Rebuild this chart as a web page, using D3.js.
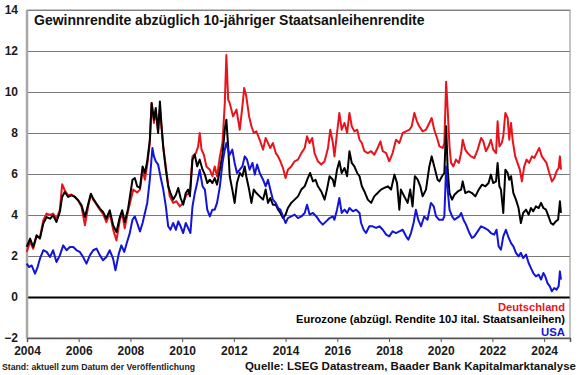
<!DOCTYPE html>
<html>
<head>
<meta charset="utf-8">
<script src="https://cdn.jsdelivr.net/npm/d3@7"></script>
<style>
  body { margin: 0; background: #fff; }
  text { font-family: "Liberation Sans", Arial, sans-serif; font-weight: bold; }
</style>
</head>
<body>
<svg id="chart" width="580" height="375"></svg>
<script>
/* global d3 */

/*
** Data (decimal year, spread in %-points)
*/
var deutschland = [
  [2003.99,2.20],[2004.12,2.70],[2004.24,2.35],[2004.37,2.95],[2004.50,2.90],[2004.63,3.74],[2004.76,4.07],
  [2004.89,4.00],[2005.01,4.07],[2005.14,3.80],[2005.27,4.25],[2005.36,5.50],[2005.46,5.20],[2005.59,4.95],
  [2005.72,5.00],[2005.85,4.90],[2005.98,4.70],[2006.11,4.40],[2006.24,3.50],[2006.37,4.45],[2006.47,5.00],
  [2006.56,4.75],[2006.69,4.50],[2006.82,4.25],[2006.94,4.05],[2007.07,3.65],[2007.20,4.10],[2007.33,3.30],
  [2007.46,2.76],[2007.59,3.75],[2007.68,4.10],[2007.78,3.35],[2007.91,4.20],
  [2008.11,5.24],[2008.26,5.10],[2008.37,5.24],[2008.47,6.20],[2008.56,5.72],[2008.65,6.45],[2008.75,7.51],
  [2008.82,9.46],[2008.91,8.49],[2008.98,9.06],[2009.07,8.10],[2009.14,9.14],[2009.27,7.35],[2009.40,6.05],
  [2009.52,4.91],[2009.65,4.59],[2009.78,4.67],[2009.91,4.42],[2010.04,4.59],[2010.17,4.99],[2010.30,5.07],
  [2010.40,6.86],[2010.53,7.02],[2010.62,7.35],[2010.68,8.00],[2010.75,7.19],[2010.84,6.94],[2010.94,6.37],
  [2011.07,6.21],[2011.17,5.89],[2011.26,6.37],[2011.35,5.89],[2011.46,6.86],[2011.56,7.51],[2011.65,9.46],
  [2011.71,11.8],[2011.78,9.63],
  [2011.84,9.46],[2011.97,8.81],[2012.10,9.14],[2012.23,8.16],[2012.33,9.30],[2012.40,10.2],[2012.48,9.79],
  [2012.59,8.81],[2012.68,8.33],[2012.77,8.00],[2012.87,8.08],[2013.00,7.67],[2013.13,7.19],[2013.23,7.76],
  [2013.32,7.51],[2013.41,7.27],[2013.51,7.51],[2013.62,7.02],[2013.71,6.86],[2013.80,6.62],[2013.90,6.29],
  [2014.00,5.80],[2014.09,6.21],[2014.22,6.37],[2014.35,6.62],[2014.48,6.70],[2014.61,7.02],[2014.74,7.27],
  [2014.83,7.84],[2014.93,7.51],[2015.03,7.76],[2015.12,7.02],[2015.25,6.62],[2015.38,6.46],[2015.51,6.62],
  [2015.64,7.27],[2015.73,8.16],[2015.83,7.51],
  [2015.89,6.86],[2015.99,8.00],[2016.08,8.98],[2016.17,8.16],[2016.28,8.49],[2016.38,8.00],[2016.47,8.98],
  [2016.56,8.33],[2016.66,8.08],[2016.77,8.16],[2016.86,7.67],[2016.95,7.51],[2017.05,7.11],[2017.18,7.02],
  [2017.31,7.11],[2017.43,6.94],[2017.56,7.27],[2017.67,7.59],[2017.76,7.11],[2017.89,7.02],[2018.01,6.62],
  [2018.14,7.02],[2018.27,7.67],[2018.40,7.51],[2018.53,8.00],[2018.66,8.08],[2018.79,8.16],[2018.88,8.33],
  [2018.98,8.98],[2019.08,8.57],[2019.17,8.33],[2019.30,8.08],[2019.43,8.16],[2019.56,8.49],[2019.65,8.73],
  [2019.75,8.16],[2019.88,7.67],
  [2019.95,7.35],[2020.08,7.27],[2020.14,7.51],[2020.21,10.5],[2020.27,9.14],[2020.34,7.35],[2020.40,6.54],
  [2020.49,6.37],[2020.59,6.70],[2020.70,6.54],[2020.79,7.02],[2020.85,7.67],[2020.95,7.19],[2021.04,7.02],
  [2021.17,6.86],[2021.30,6.78],[2021.43,7.19],[2021.56,7.76],[2021.65,7.59],[2021.75,7.11],[2021.85,7.35],
  [2021.94,7.67],[2022.03,7.19],[2022.14,7.02],[2022.20,8.57],[2022.27,7.35],[2022.36,7.51],[2022.42,7.84],
  [2022.50,8.98],[2022.59,8.73],[2022.65,7.67],[2022.72,8.49],[2022.78,7.67],[2022.88,6.86],[2022.97,6.54],
  [2023.06,6.21],[2023.14,5.64],[2023.23,6.37],[2023.32,6.70],[2023.42,6.54],[2023.53,6.86],[2023.62,6.78],
  [2023.71,7.02],[2023.81,7.27],[2023.91,6.86],[2024.00,6.70],[2024.09,6.54],[2024.20,6.05],[2024.30,5.64],
  [2024.39,5.80],[2024.48,6.13],[2024.56,6.29],[2024.61,6.86],[2024.65,6.21]
];

var eurozone = [
  [2003.99,2.44],[2004.12,2.85],[2004.24,2.44],[2004.37,3.01],[2004.50,2.85],[2004.63,3.58],[2004.76,3.90],
  [2004.89,3.82],[2005.01,3.98],[2005.14,3.66],[2005.27,4.15],[2005.36,4.88],[2005.46,5.12],[2005.59,4.88],
  [2005.72,4.96],[2005.85,4.88],[2005.98,4.72],[2006.11,4.47],[2006.24,3.90],[2006.37,4.55],[2006.47,5.04],
  [2006.56,4.80],[2006.69,4.55],[2006.82,4.31],[2006.94,4.15],[2007.07,3.82],[2007.20,4.23],[2007.33,3.50],
  [2007.46,3.17],[2007.59,3.90],[2007.68,4.23],[2007.78,3.66],[2007.91,4.31],
  [2008.08,5.72],[2008.17,5.80],[2008.26,5.40],[2008.37,5.32],[2008.47,6.37],[2008.56,6.05],[2008.65,6.62],
  [2008.75,7.67],[2008.82,9.46],[2008.91,8.65],[2008.98,9.22],[2009.07,8.00],[2009.14,9.54],[2009.20,8.41],
  [2009.27,7.27],[2009.37,6.21],[2009.46,5.40],[2009.55,5.07],[2009.65,4.75],[2009.76,4.99],[2009.85,5.32],
  [2009.94,4.83],[2010.04,4.50],[2010.14,5.07],[2010.23,5.24],[2010.30,4.91],[2010.40,6.70],[2010.49,6.94],
  [2010.58,6.37],[2010.68,6.70],[2010.79,6.21],[2010.88,5.97],[2010.97,5.56],[2011.07,5.72],[2011.17,5.56],
  [2011.26,5.80],[2011.35,5.48],[2011.46,6.21],[2011.56,6.94],[2011.65,8.16],[2011.71,8.65],[2011.78,7.35],
  [2011.84,5.89],[2011.94,5.24],[2012.03,4.59],[2012.12,5.56],[2012.23,6.05],[2012.33,5.89],[2012.42,6.37],
  [2012.48,5.89],[2012.59,5.24],[2012.68,4.59],[2012.77,5.24],[2012.87,5.07],[2013.00,4.91],[2013.13,4.75],
  [2013.23,5.24],[2013.32,4.59],[2013.41,4.83],[2013.51,4.50],[2013.62,4.50],[2013.71,4.26],[2013.80,4.10],
  [2013.90,3.85],[2014.00,4.02],[2014.09,4.34],[2014.22,4.59],[2014.35,4.75],[2014.48,4.91],[2014.61,5.24],
  [2014.74,5.40],[2014.86,5.80],[2014.95,6.05],[2015.06,5.64],[2015.16,5.72],[2015.25,5.40],[2015.38,5.15],
  [2015.51,4.75],[2015.60,5.24],[2015.70,5.89],[2015.83,5.72],
  [2015.89,5.40],[2015.99,6.21],[2016.08,6.62],[2016.17,6.05],[2016.28,6.29],[2016.38,5.89],[2016.47,7.11],
  [2016.56,6.54],[2016.66,6.37],[2016.77,6.05],[2016.86,5.89],[2016.95,5.40],[2017.05,5.15],[2017.18,4.75],
  [2017.31,4.59],[2017.43,4.91],[2017.56,5.07],[2017.69,5.24],[2017.82,5.32],[2017.95,5.40],[2018.08,5.24],
  [2018.21,5.97],[2018.31,5.56],[2018.40,4.26],[2018.46,5.24],[2018.59,4.91],[2018.72,4.59],[2018.82,5.24],
  [2018.91,4.42],[2019.00,5.89],[2019.11,5.72],[2019.21,5.40],[2019.30,4.91],[2019.43,5.24],[2019.56,6.37],
  [2019.65,6.86],[2019.75,6.37],[2019.88,5.72],
  [2019.95,5.64],[2020.05,5.89],[2020.14,6.05],[2020.21,8.33],[2020.27,6.21],[2020.34,5.07],[2020.44,4.75],
  [2020.53,4.99],[2020.66,5.15],[2020.79,5.24],[2020.85,5.64],[2020.95,5.07],[2021.08,5.15],[2021.21,5.07],
  [2021.34,4.91],[2021.47,5.24],[2021.60,5.48],[2021.73,5.40],[2021.85,5.56],[2021.94,5.97],[2022.03,5.56],
  [2022.14,5.64],[2022.20,6.54],[2022.27,5.40],[2022.33,5.24],[2022.42,4.10],[2022.50,6.21],[2022.59,6.05],
  [2022.65,5.72],[2022.72,5.89],[2022.81,5.07],[2022.91,4.75],[2023.01,4.34],[2023.10,3.61],[2023.19,4.10],
  [2023.30,4.26],[2023.40,4.02],[2023.49,4.34],[2023.58,4.18],[2023.68,4.42],[2023.79,4.34],[2023.88,4.59],
  [2023.97,4.34],[2024.07,4.26],[2024.17,3.93],[2024.26,3.61],[2024.35,3.53],[2024.45,3.69],[2024.54,3.77],
  [2024.61,4.67],[2024.65,4.10]
];

var usa = [
  [2003.99,1.63],[2004.08,1.46],[2004.18,1.54],[2004.31,1.14],[2004.41,1.46],[2004.50,1.87],[2004.63,2.28],
  [2004.76,2.20],[2004.89,1.95],[2005.01,2.28],[2005.14,1.71],[2005.27,2.03],[2005.40,2.52],[2005.53,2.28],
  [2005.66,2.44],[2005.79,2.44],[2005.92,2.28],[2006.04,2.20],[2006.17,1.95],[2006.30,1.63],[2006.43,2.03],
  [2006.56,2.28],[2006.69,2.36],[2006.82,2.03],[2006.94,1.79],[2007.07,1.95],[2007.20,2.28],[2007.33,1.87],
  [2007.42,1.30],[2007.55,2.11],[2007.65,2.52],[2007.76,2.20],[2007.85,2.60],[2007.97,3.09],
  [2008.08,3.77],[2008.17,3.93],[2008.26,3.61],[2008.37,3.20],[2008.47,3.61],[2008.56,4.10],[2008.65,4.59],
  [2008.75,5.72],[2008.85,7.27],[2008.91,6.86],[2008.98,6.62],[2009.07,6.46],[2009.16,5.89],[2009.27,5.24],
  [2009.37,4.42],[2009.46,3.45],[2009.55,3.28],[2009.65,3.61],[2009.76,3.28],[2009.85,3.69],[2009.94,3.45],
  [2010.04,3.12],[2010.14,3.61],[2010.23,3.37],[2010.32,3.12],[2010.40,4.42],[2010.49,5.07],[2010.58,5.56],
  [2010.68,6.21],[2010.79,5.40],[2010.88,5.24],[2010.97,4.26],[2011.07,3.93],[2011.17,4.26],[2011.26,4.26],
  [2011.35,4.59],[2011.46,5.40],[2011.56,6.54],[2011.65,7.19],[2011.71,7.51],[2011.81,7.02],
  [2011.84,6.94],[2011.94,7.19],[2012.03,6.54],[2012.12,6.05],[2012.23,6.21],[2012.33,6.37],[2012.42,6.86],
  [2012.51,6.70],[2012.61,6.21],[2012.72,6.54],[2012.81,5.97],[2012.90,6.46],[2013.00,6.05],[2013.13,5.72],
  [2013.23,5.40],[2013.32,5.72],[2013.41,5.24],[2013.51,4.75],[2013.62,4.59],[2013.71,4.34],[2013.80,4.26],
  [2013.90,3.93],[2014.00,3.61],[2014.09,3.85],[2014.22,3.93],[2014.35,4.02],[2014.48,3.85],[2014.61,3.93],
  [2014.74,4.10],[2014.83,4.50],[2014.93,4.02],[2015.06,4.10],[2015.19,3.93],[2015.32,3.69],[2015.44,3.53],
  [2015.57,3.69],[2015.70,3.85],[2015.83,3.93],
  [2015.89,3.77],[2015.99,4.26],[2016.08,4.83],[2016.17,4.10],[2016.28,4.26],[2016.38,4.10],[2016.47,4.34],
  [2016.60,4.18],[2016.73,4.26],[2016.86,4.10],[2016.92,3.61],[2017.02,3.28],[2017.11,3.12],[2017.24,3.45],
  [2017.37,3.45],[2017.50,3.37],[2017.63,3.45],[2017.76,3.28],[2017.89,3.04],[2018.01,2.96],[2018.14,3.20],
  [2018.27,3.12],[2018.40,3.20],[2018.53,3.28],[2018.66,2.96],[2018.75,2.80],[2018.85,3.12],[2018.95,3.61],
  [2019.04,4.26],[2019.13,3.77],[2019.24,3.45],[2019.36,3.93],[2019.49,3.77],[2019.62,4.59],[2019.73,4.42],
  [2019.82,3.93],[2019.94,3.77],
  [2020.08,3.77],[2020.14,3.93],[2020.21,6.37],[2020.27,5.24],[2020.34,4.26],[2020.44,3.93],[2020.53,3.77],
  [2020.62,3.85],[2020.72,3.93],[2020.79,4.10],[2020.88,3.77],[2020.98,3.53],[2021.11,3.12],[2021.21,2.88],
  [2021.30,2.96],[2021.43,3.20],[2021.56,3.45],[2021.69,3.37],[2021.82,3.28],[2021.94,3.12],[2022.07,3.04],
  [2022.16,3.28],[2022.24,2.47],[2022.33,2.31],[2022.42,2.96],[2022.52,3.28],[2022.63,2.88],[2022.72,2.63],
  [2022.81,2.47],[2022.91,2.15],[2023.01,1.98],[2023.10,2.15],[2023.19,1.90],[2023.30,2.07],[2023.40,1.66],
  [2023.49,1.41],[2023.58,1.17],[2023.68,1.01],[2023.79,1.09],[2023.88,0.85],[2023.97,1.17],[2024.04,1.01],
  [2024.13,0.68],[2024.22,0.52],[2024.30,0.28],[2024.39,0.44],[2024.48,0.36],[2024.56,0.52],[2024.61,1.25],
  [2024.65,0.85]
];

var xTicks = [2004, 2006, 2008, 2010, 2012, 2014, 2016, 2018, 2020, 2022, 2024];
var yTicks = [-2, 0, 2, 4, 6, 8, 10, 12, 14];

var seriesNames = ["Deutschland", "Eurozone (abzügl. Rendite 10J ital. Staatsanleihen)", "USA"];
var seriesColors = ["#e8141c", "#000000", "#1414d8"];

var title = "Gewinnrendite abzüglich 10-jähriger Staatsanleihenrendite";
var footLeft = "Stand: aktuell zum Datum der Veröffentlichung";
var footRight = "Quelle: LSEG Datastream, Baader Bank Kapitalmarktanalyse";

/*
** Scales
*/
var svg = d3.select("#chart")
  , plot = { left: 27, right: 570, top: 10, bottom: 338 }
  , x = d3.scaleLinear().domain([2004, 2025]).range([plot.left, plot.right])
  , y = d3.scaleLinear().domain([-2, 14]).range([plot.bottom, plot.top])
  , line = d3.line()
      .x(function(d) { return x(d[0]); })
      .y(function(d) { return y(d[1]); })
;

svg.append("rect")
    .attr("width", 580).attr("height", 375)
    .attr("fill", "#fff");

// Gridlines and y labels
var yAxis = svg.append("g")
    .attr("transform", "translate(" + plot.left + ",0)")
    .call(d3.axisLeft(y)
        .tickValues(yTicks)
        .tickSize(-(plot.right - plot.left))
        .tickPadding(9)
        .tickFormat(d3.format("d")))
;
yAxis.select(".domain").remove();
yAxis.selectAll(".tick line")
    .attr("stroke", function(d) { return d === 0 ? "#000" : "#7a7a7a"; })
    .attr("stroke-width", function(d) { return d === 0 ? 2 : 1; })
    .style("display", function(d) { return d === -2 ? "none" : null; });
yAxis.selectAll(".tick text")
    .attr("fill", "#1a1a1a")
    .style("font-size", "12px");

// Plot frame
svg.append("rect")
    .attr("x", plot.left).attr("y", plot.top)
    .attr("width", plot.right - plot.left).attr("height", plot.bottom - plot.top)
    .attr("fill", "none").attr("stroke", "#8a8a8a").attr("stroke-width", 1);
svg.append("line")
    .attr("x1", plot.left).attr("x2", plot.left)
    .attr("y1", plot.top).attr("y2", plot.bottom)
    .attr("stroke", "#a8a8a8").attr("stroke-width", 2.5);

// x axis
var xAxis = svg.append("g")
    .attr("transform", "translate(0," + plot.bottom + ")")
    .call(d3.axisBottom(x)
        .tickValues(xTicks)
        .tickSize(4)
        .tickPadding(4)
        .tickFormat(d3.format("d")))
;
xAxis.select(".domain").attr("stroke", "#555").attr("stroke-width", 1.5);
xAxis.selectAll(".tick line").attr("stroke", "#555");
xAxis.selectAll(".tick text")
    .attr("fill", "#1a1a1a")
    .style("font-size", "12px");

// Series lines
svg.append("g")
  .selectAll("path")
    .data([deutschland, eurozone, usa])
  .enter().append("path")
    .attr("d", line)
    .attr("fill", "none")
    .attr("stroke", function(d, i) { return seriesColors[i]; })
    .attr("stroke-width", 2)
    .attr("stroke-linejoin", "round");

// Title
svg.append("text")
    .attr("x", 34).attr("y", 25)
    .attr("fill", "#111")
    .style("font-size", "14px")
    .text(title);

// Legend
var legendWidths = [67, 269, 24];
svg.append("g")
  .selectAll("text")
    .data(seriesNames)
  .enter().append("text")
    .attr("x", 565)
    .attr("y", function(d, i) { return 311 + i * 12.3; })
    .attr("text-anchor", "end")
    .attr("fill", function(d, i) { return seriesColors[i]; })
    .attr("textLength", function(d, i) { return legendWidths[i]; })
    .attr("lengthAdjust", "spacingAndGlyphs")
    .style("font-size", "11px")
    .text(function(d) { return d; });

// Footer
svg.append("text")
    .attr("x", 2).attr("y", 370)
    .attr("fill", "#222")
    .attr("textLength", 193)
    .attr("lengthAdjust", "spacingAndGlyphs")
    .style("font-size", "9px")
    .text(footLeft);
svg.append("text")
    .attr("x", 576).attr("y", 369.5)
    .attr("text-anchor", "end")
    .attr("fill", "#111")
    .style("font-size", "11.5px")
    .text(footRight);
</script>
</body>
</html>
